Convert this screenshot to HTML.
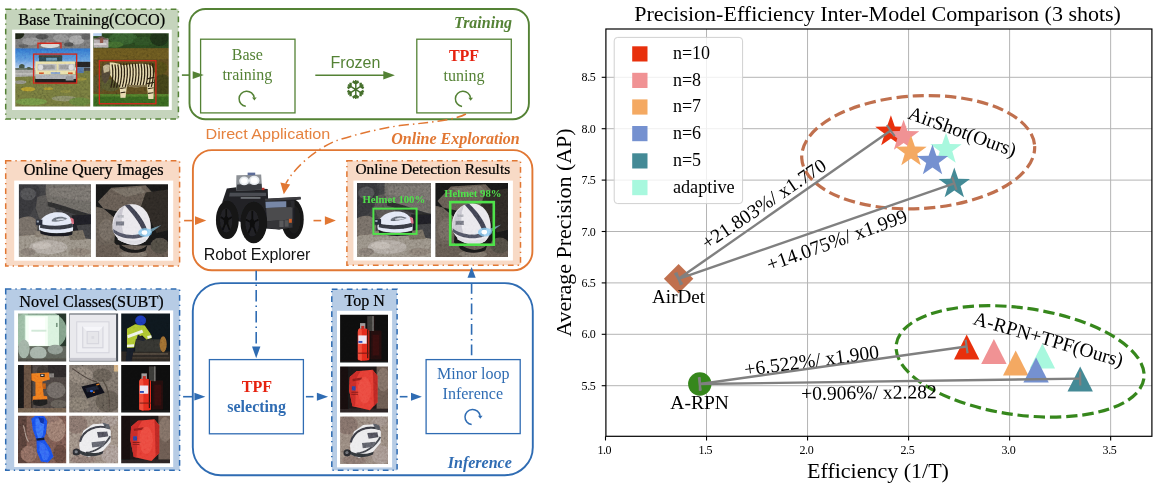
<!DOCTYPE html>
<html lang="en"><head><meta charset="utf-8"><title>AirShot overview</title>
<style>html,body{margin:0;padding:0;background:#fff}svg{display:block}</style></head><body>
<svg width="1157" height="485" viewBox="0 0 1157 485">
<rect x="0" y="0" width="1157" height="485" fill="#fff"/>
<rect x="5.7" y="9.2" width="172.70" height="109.90" fill="#c5d4bc" stroke="#548235" stroke-width="1.5" stroke-dasharray="5.7 4 1.3 4"/>
<rect x="12.1" y="29.7" width="159.70" height="80.30" fill="#fff" stroke="none" stroke-width="1" rx="0" />
<text x="91.7" y="24.8" font-size="16.25" fill="#000" text-anchor="middle" font-family="'Liberation Serif', serif" stroke="#000" stroke-width="0.22">Base Training(COCO)</text>
<rect x="5.7" y="160.7" width="173.90" height="105.20" fill="#f8dac6" stroke="#e17733" stroke-width="1.5" stroke-dasharray="5.7 4 1.3 4"/>
<rect x="14.2" y="180.6" width="159.00" height="80.10" fill="#fff" stroke="none" stroke-width="1" rx="0" />
<text x="93.7" y="174.6" font-size="16.25" fill="#000" text-anchor="middle" font-family="'Liberation Serif', serif" stroke="#000" stroke-width="0.22">Online Query Images</text>
<rect x="5.7" y="289.0" width="173.90" height="181.30" fill="#b7cce5" stroke="#2f6cb3" stroke-width="1.5" stroke-dasharray="5.7 4 1.3 4"/>
<rect x="14.2" y="310.4" width="159.00" height="156.60" fill="#fff" stroke="none" stroke-width="1" rx="0" />
<text x="91.5" y="307.0" font-size="16.2" fill="#000" text-anchor="middle" font-family="'Liberation Serif', serif" stroke="#000" stroke-width="0.22">Novel Classes(SUBT)</text>
<rect x="189.5" y="9.0" width="339.40" height="110.20" fill="none" stroke="#548235" stroke-width="1.9" rx="16" />
<rect x="200.6" y="39.2" width="94.40" height="73.70" fill="none" stroke="#548235" stroke-width="1.3" rx="0" />
<rect x="416.8" y="39.2" width="94.50" height="73.70" fill="none" stroke="#548235" stroke-width="1.3" rx="0" />
<text x="247.3" y="59.8" font-size="16" fill="#548235" text-anchor="middle" font-family="'Liberation Serif', serif" >Base</text>
<text x="247.3" y="79.9" font-size="16" fill="#548235" text-anchor="middle" font-family="'Liberation Serif', serif" >training</text>
<path d="M245.77,106.34 A7.6,7.6 0 1 1 254.23,97.74" fill="none" stroke="#548235" stroke-width="1.5"/>
<polygon points="254.38,100.54 256.68,97.54 252.08,97.54" fill="#548235"/>
<text x="464.0" y="60.9" font-size="16" fill="#e6220f" text-anchor="middle" font-family="'Liberation Serif', serif" font-weight="bold" >TPF</text>
<text x="464.0" y="80.5" font-size="16" fill="#548235" text-anchor="middle" font-family="'Liberation Serif', serif" >tuning</text>
<path d="M462.07,106.44 A7.6,7.6 0 1 1 470.53,97.84" fill="none" stroke="#548235" stroke-width="1.5"/>
<polygon points="470.68,100.64 472.98,97.64 468.38,97.64" fill="#548235"/>
<text x="483.0" y="27.8" font-size="16" fill="#548235" text-anchor="middle" font-family="'Liberation Serif', serif" font-weight="bold" font-style="italic" >Training</text>
<line x1="315.3" y1="75.3" x2="385.62" y2="75.3" stroke="#548235" stroke-width="1.6"/>
<polygon points="394.9,75.3 383.30,71.0 383.30,79.6" fill="#548235"/>
<text x="355.5" y="67.5" font-size="16" fill="#548235" text-anchor="middle" font-family="'Liberation Sans', sans-serif" >Frozen</text>
<text transform="translate(355.6 98.9) scale(1 1.06)" font-size="24.6" fill="#456f2b" text-anchor="middle" font-family="'DejaVu Sans', sans-serif">&#10054;</text>
<line x1="181.9" y1="75.1" x2="189.0" y2="75.1" stroke="#548235" stroke-width="1.6"/>
<polygon points="203.8,75.1 192.7,71.19999999999999 192.7,79.0" fill="#548235"/>
<rect x="192.9" y="150.1" width="339.50" height="120.20" fill="none" stroke="#e17733" stroke-width="1.9" rx="19" />
<text x="205.5" y="138.8" font-size="14.8" fill="#e5823f" text-anchor="start" font-family="'Liberation Sans', sans-serif" textLength="124.8" lengthAdjust="spacingAndGlyphs">Direct Application</text>
<text x="455.5" y="144.2" font-size="16" fill="#e17733" text-anchor="middle" font-family="'Liberation Serif', serif" font-weight="bold" font-style="italic" >Online Exploration</text>
<text x="257.0" y="260.2" font-size="16" fill="#111" text-anchor="middle" font-family="'Liberation Sans', sans-serif" >Robot Explorer</text>
<rect x="346.9" y="160.7" width="173.60" height="104.50" fill="#f8dac6" stroke="#e17733" stroke-width="1.5" stroke-dasharray="5.7 4 1.3 4"/>
<rect x="353.4" y="180.6" width="159.50" height="79.90" fill="#fff" stroke="none" stroke-width="1" rx="0" />
<text x="432.8" y="173.6" font-size="15.4" fill="#000" text-anchor="middle" font-family="'Liberation Serif', serif" stroke="#000" stroke-width="0.22">Online Detection Results</text>
<line x1="184.1" y1="220.6" x2="192.4" y2="220.6" stroke="#e17733" stroke-width="1.6"/>
<polygon points="206.3,220.6 195.0,216.2 195.0,225.0" fill="#e17733"/>
<line x1="313.5" y1="220.6" x2="321.2" y2="220.6" stroke="#e17733" stroke-width="1.6"/>
<polygon points="335.9,220.6 324.9,216.29999999999998 324.9,224.9" fill="#e17733"/>
<path d="M465.9,114 C455,120 430,122.5 399.9,125.5 C375,129.5 352,135.5 335,141.1 C318,148.5 296,165 285.8,183.6" fill="none" stroke="#e17733" stroke-width="1.5" stroke-dasharray="10 4 1.5 4"/>
<polygon points="283.8,194.2 280.4,182.4 290.2,184.6" fill="#e17733"/>
<rect x="192.8" y="283.1" width="340.00" height="192.10" fill="none" stroke="#2f6cb3" stroke-width="1.9" rx="28" />
<rect x="209.4" y="359.6" width="94.00" height="74.20" fill="none" stroke="#2f6cb3" stroke-width="1.3" rx="0" />
<rect x="426.1" y="359.6" width="94.10" height="74.00" fill="none" stroke="#2f6cb3" stroke-width="1.3" rx="0" />
<text x="256.9" y="391.8" font-size="16" fill="#e6220f" text-anchor="middle" font-family="'Liberation Serif', serif" font-weight="bold" >TPF</text>
<text x="256.6" y="412.3" font-size="16" fill="#2f6cb3" text-anchor="middle" font-family="'Liberation Serif', serif" font-weight="bold" >selecting</text>
<text x="473.2" y="379.0" font-size="16" fill="#2f6cb3" text-anchor="middle" font-family="'Liberation Serif', serif" >Minor loop</text>
<text x="472.8" y="399.0" font-size="16" fill="#2f6cb3" text-anchor="middle" font-family="'Liberation Serif', serif" >Inference</text>
<path d="M471.67,424.54 A7.6,7.6 0 1 1 480.13,415.94" fill="none" stroke="#2f6cb3" stroke-width="1.5"/>
<polygon points="480.28,418.74 482.58,415.74 477.98,415.74" fill="#2f6cb3"/>
<text x="479.8" y="467.9" font-size="16" fill="#2f6cb3" text-anchor="middle" font-family="'Liberation Serif', serif" font-weight="bold" font-style="italic" >Inference</text>
<rect x="331.8" y="289.2" width="65.30" height="181.10" fill="#b7cce5" stroke="#2f6cb3" stroke-width="1.5" stroke-dasharray="5.7 4 1.3 4"/>
<rect x="337.0" y="310.8" width="55.10" height="156.60" fill="#fff" stroke="none" stroke-width="1" rx="0" />
<text x="364.6" y="306.3" font-size="16" fill="#000" text-anchor="middle" font-family="'Liberation Serif', serif" stroke="#000" stroke-width="0.22">Top N</text>
<line x1="183.1" y1="396.7" x2="192.0" y2="396.7" stroke="#2f6cb3" stroke-width="1.6"/>
<polygon points="205.4,396.7 194.4,392.8 194.4,400.59999999999997" fill="#2f6cb3"/>
<line x1="305.9" y1="396.7" x2="313.5" y2="396.7" stroke="#2f6cb3" stroke-width="1.6"/>
<polygon points="328.1,396.7 316.9,392.7 316.9,400.7" fill="#2f6cb3"/>
<line x1="399.7" y1="396.7" x2="407.5" y2="396.7" stroke="#2f6cb3" stroke-width="1.6"/>
<polygon points="421.9,396.7 411.0,392.7 411.0,400.7" fill="#2f6cb3"/>
<line x1="256.2" y1="270.7" x2="256.2" y2="344" stroke="#2f6cb3" stroke-width="1.6" stroke-dasharray="11.5 4 1.5 4" stroke-dashoffset="1.7"/>
<polygon points="256.2,358.2 252.0,346.6 260.4,346.6" fill="#2f6cb3"/>
<line x1="471.6" y1="359.4" x2="471.6" y2="283.6" stroke="#2f6cb3" stroke-width="1.6" stroke-dasharray="10.8 4.1 1.5 4.1" stroke-dashoffset="16.4"/>
<polygon points="471.6,266.9 467.5,277.8 475.7,277.8" fill="#2f6cb3"/>
<defs><filter id="pb" x="-5%" y="-5%" width="110%" height="110%"><feGaussianBlur stdDeviation="4.2"/></filter><filter id="pb2" x="-5%" y="-5%" width="110%" height="110%"><feGaussianBlur stdDeviation="5.6"/></filter><filter id="gn" x="0" y="0" width="100%" height="100%"><feTurbulence type="fractalNoise" baseFrequency="0.45" numOctaves="3" seed="7" result="t"/><feColorMatrix in="t" type="matrix" values="0.55 0.55 0.55 0 -0.33  0.55 0.55 0.55 0 -0.33  0.55 0.55 0.55 0 -0.33  0 0 0 0 1"/></filter><clipPath id="pc1"><rect x="15.25" y="33.2" width="74.95" height="73.30"/></clipPath><clipPath id="pc2"><rect x="93.25" y="33.2" width="75.45" height="73.30"/></clipPath><clipPath id="pc3"><rect x="18.9" y="184.3" width="72.10" height="72.70"/></clipPath><clipPath id="pc4"><rect x="95.9" y="184.3" width="72.10" height="72.70"/></clipPath><clipPath id="pc5"><rect x="18.0" y="313.6" width="48.20" height="47.80"/></clipPath><clipPath id="pc6"><rect x="69.2" y="313.6" width="48.90" height="47.80"/></clipPath><clipPath id="pc7"><rect x="121.2" y="313.6" width="48.80" height="47.80"/></clipPath><clipPath id="pc8"><rect x="18.0" y="365.0" width="48.20" height="47.40"/></clipPath><clipPath id="pc9"><rect x="69.2" y="365.0" width="48.90" height="47.40"/></clipPath><clipPath id="pc10"><rect x="121.2" y="365.0" width="48.80" height="47.40"/></clipPath><clipPath id="pc11"><rect x="18.0" y="415.7" width="48.20" height="47.60"/></clipPath><clipPath id="pc12"><rect x="69.2" y="415.7" width="48.90" height="47.60"/></clipPath><clipPath id="pc13"><rect x="121.2" y="415.7" width="48.80" height="47.60"/></clipPath><clipPath id="pc14"><rect x="340.1" y="314.7" width="47.90" height="47.90"/></clipPath><clipPath id="pc15"><rect x="340.1" y="366.4" width="47.90" height="46.00"/></clipPath><clipPath id="pc16"><rect x="340.1" y="416.5" width="47.90" height="47.60"/></clipPath><clipPath id="pc17"><rect x="357.0" y="183.1" width="74.00" height="73.90"/></clipPath><clipPath id="pc18"><rect x="435.4" y="183.1" width="72.60" height="73.90"/></clipPath></defs><g clip-path="url(#pc1)"><g transform="translate(14 32) scale(0.15662)"><g filter="url(#pb)"><rect x="0" y="0" width="500" height="110" fill="#6f6f6f" /><ellipse cx="20" cy="15" rx="45" ry="30" fill="#1c2414" /><ellipse cx="110" cy="60" rx="60" ry="25" fill="#8a8a8a" /><ellipse cx="230" cy="85" rx="60" ry="18" fill="#d4d4d0" /><ellipse cx="300" cy="40" rx="50" ry="25" fill="#858585" /><ellipse cx="400" cy="50" rx="50" ry="30" fill="#9c9c9c" /><ellipse cx="180" cy="30" rx="40" ry="18" fill="#4c4c4c" /><ellipse cx="350" cy="80" rx="30" ry="14" fill="#4a4a4a" /><ellipse cx="460" cy="30" rx="30" ry="20" fill="#595959" /><ellipse cx="60" cy="90" rx="30" ry="12" fill="#555" /><linearGradient id="sky1" x1="0" y1="0" x2="0" y2="1"><stop offset="0" stop-color="#2a69c6"/><stop offset="0.55" stop-color="#5b93d8"/><stop offset="1" stop-color="#b4d0ec"/></linearGradient><rect x="0" y="105" width="500" height="135" fill="url(#sky1)" /><ellipse cx="50" cy="222" rx="18" ry="18" fill="#3c4c3c" /><rect x="0" y="230" width="130" height="14" fill="#5a6458" /><ellipse cx="95" cy="232" rx="14" ry="8" fill="#46523f" /><rect x="65" y="246" width="30" height="10" fill="#b03828" /><rect x="0" y="242" width="500" height="45" fill="#9b9b97" /><rect x="0" y="262" width="130" height="10" fill="#b4b4b0" /><polygon points="0,288 140,282 400,250 500,246 500,480 0,480" fill="#6a6e38" /><ellipse cx="90" cy="365" rx="45" ry="14" fill="#a8902c" /><ellipse cx="220" cy="362" rx="30" ry="8" fill="#9a8a2e" /><ellipse cx="430" cy="300" rx="36" ry="10" fill="#8c8334" /><ellipse cx="330" cy="380" rx="36" ry="10" fill="#7d7c3a" /><ellipse cx="40" cy="320" rx="40" ry="12" fill="#85857a" /><ellipse cx="320" cy="425" rx="80" ry="18" fill="#7f8262" /><ellipse cx="110" cy="445" rx="100" ry="22" fill="#6a8a40" /><ellipse cx="420" cy="445" rx="70" ry="26" fill="#5f7838" /><rect x="385" y="190" width="115" height="36" fill="#232323" /><rect x="400" y="226" width="45" height="36" fill="#4c6c9c" /><rect x="445" y="228" width="55" height="20" fill="#3a3a3a" /><rect x="135" y="296" width="262" height="32" fill="#1b1b1b" /><rect x="158" y="148" width="150" height="16" fill="#3c3c30" /><rect x="160" y="160" width="148" height="32" fill="#27424c" /><rect x="205" y="165" width="70" height="18" fill="#5e8aa6" /><rect x="137" y="188" width="255" height="84" fill="#e8dea2" /><rect x="150" y="204" width="238" height="42" fill="#b6b6b6" /><rect x="272" y="204" width="12" height="42" fill="#e0d69c" /><rect x="160" y="212" width="100" height="26" fill="#8e8e8e" /><rect x="290" y="212" width="60" height="26" fill="#929292" /><ellipse cx="170" cy="225" rx="16" ry="18" fill="#d8d8d8" /><ellipse cx="365" cy="225" rx="16" ry="18" fill="#d8d8d8" /><rect x="160" y="258" width="30" height="10" fill="#cf4a22" /><rect x="345" y="258" width="30" height="10" fill="#cf4a22" /><rect x="235" y="256" width="60" height="14" fill="#7a96c4" /><rect x="137" y="272" width="258" height="28" fill="#a4a6aa" /><rect x="330" y="280" width="50" height="30" fill="#8a8c90" /></g></g><rect x="15.25" y="33.2" width="74.95" height="73.30" filter="url(#gn)" opacity="0.28" style="mix-blend-mode:overlay"/><g transform="translate(14 32) scale(0.15662)"><rect x="125" y="141" width="275" height="185" fill="none" stroke="#d3291c" stroke-width="8.5"/><path d="M153,105 V72 H300 V105" fill="none" stroke="#d3291c" stroke-width="8.5"/></g></g>
<g clip-path="url(#pc2)"><g transform="translate(92 32) scale(0.15662)"><g filter="url(#pb)"><rect x="0" y="0" width="500" height="110" fill="#25411d" /><ellipse cx="200" cy="40" rx="90" ry="40" fill="#30562a" /><ellipse cx="330" cy="60" rx="70" ry="30" fill="#294a20" /><ellipse cx="430" cy="40" rx="60" ry="50" fill="#1a2e14" /><ellipse cx="140" cy="80" rx="60" ry="20" fill="#3a6029" /><rect x="0" y="0" width="62" height="26" fill="#a9c6ea" /><rect x="10" y="42" width="95" height="58" fill="#a9a2a4" /><polygon points="10,48 60,25 108,50" fill="#5c4a44" /><rect x="50" y="40" width="22" height="30" fill="#7d4c40" /><rect x="12" y="72" width="80" height="10" fill="#d8d4d4" /><rect x="0" y="104" width="500" height="300" fill="#54451a" /><rect x="0" y="104" width="500" height="70" fill="#5f4f1c" /><ellipse cx="450" cy="340" rx="60" ry="70" fill="#3b3a17" /><ellipse cx="430" cy="230" rx="50" ry="40" fill="#4b4418" /><ellipse cx="40" cy="330" rx="40" ry="60" fill="#4d4a28" /><ellipse cx="120" cy="340" rx="60" ry="40" fill="#50502c" /><rect x="0" y="398" width="500" height="90" fill="#335b1e" /><rect x="0" y="396" width="500" height="16" fill="#4a6f28" /><path d="M112,196 C140,192 170,205 200,212 C250,205 320,195 372,210 C398,225 402,270 396,310 L392,428 L360,428 L352,350 C320,352 260,356 222,346 L214,420 L182,420 L176,340 C150,320 120,290 112,262 Z" fill="#e4d6a6" /><path d="M112,196 C86,196 64,212 60,250 C58,290 66,320 84,330 C100,320 112,290 118,262 Z" fill="#4a4030" /><path d="M70,220 C84,206 104,204 114,214 L110,250 L76,262 Z" fill="#b4a680" /><path d="M128.0,206 C138.0,256 134.0,306 120.0,356" stroke="#251c10" stroke-width="8.5" fill="none"/><path d="M146.5,206 C156.5,256 152.5,306 138.5,356" stroke="#251c10" stroke-width="8.5" fill="none"/><path d="M165.0,206 C175.0,256 171.0,306 157.0,356" stroke="#251c10" stroke-width="8.5" fill="none"/><path d="M183.5,200 C193.5,250 189.5,300 175.5,350" stroke="#251c10" stroke-width="8.5" fill="none"/><path d="M202.0,200 C212.0,250 208.0,300 194.0,350" stroke="#251c10" stroke-width="8.5" fill="none"/><path d="M220.5,200 C230.5,250 226.5,300 212.5,350" stroke="#251c10" stroke-width="8.5" fill="none"/><path d="M239.0,200 C249.0,250 245.0,300 231.0,350" stroke="#251c10" stroke-width="8.5" fill="none"/><path d="M257.5,200 C267.5,250 263.5,300 249.5,350" stroke="#251c10" stroke-width="8.5" fill="none"/><path d="M276.0,200 C286.0,250 282.0,300 268.0,350" stroke="#251c10" stroke-width="8.5" fill="none"/><path d="M294.5,200 C304.5,250 300.5,300 286.5,350" stroke="#251c10" stroke-width="8.5" fill="none"/><path d="M313.0,200 C323.0,250 319.0,300 305.0,350" stroke="#251c10" stroke-width="8.5" fill="none"/><path d="M331.5,200 C341.5,250 337.5,300 323.5,350" stroke="#251c10" stroke-width="8.5" fill="none"/><path d="M350.0,200 C360.0,250 356.0,300 342.0,350" stroke="#251c10" stroke-width="8.5" fill="none"/><path d="M368.5,200 C378.5,250 374.5,300 360.5,350" stroke="#251c10" stroke-width="8.5" fill="none"/><path d="M387.0,200 C397.0,250 393.0,300 379.0,350" stroke="#251c10" stroke-width="8.5" fill="none"/><line x1="352" y1="300" x2="398" y2="290" stroke="#251c10" stroke-width="8" /><line x1="352" y1="330" x2="396" y2="322" stroke="#251c10" stroke-width="8" /><line x1="356" y1="362" x2="394" y2="356" stroke="#251c10" stroke-width="7" /><line x1="358" y1="392" x2="392" y2="388" stroke="#251c10" stroke-width="7" /><line x1="180" y1="360" x2="216" y2="356" stroke="#251c10" stroke-width="7" /><line x1="182" y1="388" x2="214" y2="384" stroke="#251c10" stroke-width="7" /><path d="M222,346 C260,356 320,352 352,350 L352,338 C320,340 260,342 224,334 Z" fill="#6e6140" /></g></g><rect x="93.25" y="33.2" width="75.45" height="73.30" filter="url(#gn)" opacity="0.32" style="mix-blend-mode:overlay"/><g transform="translate(92 32) scale(0.15662)"><rect x="47" y="183" width="361" height="275" fill="none" stroke="#d3291c" stroke-width="8.5"/></g></g>
<g clip-path="url(#pc3)"><g transform="translate(17 183) scale(0.15669)"><g filter="url(#pb)"><rect x="0" y="0" width="490" height="490" fill="#3b3b3d" /><polygon points="12,8 130,8 150,60 120,150 60,230 12,230" fill="#333336" /><ellipse cx="70" cy="70" rx="50" ry="40" fill="#4a4a4c" /><polygon points="130,90 200,70 250,180 240,260 150,250 120,160" fill="#504e4c" /><path d="M185,8 L480,8 L480,200 C400,190 300,150 200,125 C180,90 182,40 185,8 Z" fill="#625e5a" /><path d="M200,30 L470,20 L470,120 C380,110 280,90 210,80 Z" fill="#6c6864" /><path d="M195,120 C300,140 400,185 480,205 L480,225 C400,215 300,175 200,150 Z" fill="#2a2a2c" /><rect x="350" y="205" width="130" height="130" fill="#1d1d20" /><polygon points="380,270 480,262 480,340 400,332" fill="#3b3b3c" /><path d="M12,230 C50,205 110,205 132,250 L128,330 L12,350 Z" fill="#6b635b" /><path d="M12,340 C120,320 330,330 480,360 L480,480 L12,480 Z" fill="#8b8379" /><ellipse cx="200" cy="410" rx="120" ry="44" fill="#a69e96" /><ellipse cx="160" cy="400" rx="60" ry="22" fill="#b9b1a9" /><ellipse cx="400" cy="440" rx="70" ry="25" fill="#7b736b" /><ellipse cx="70" cy="440" rx="50" ry="25" fill="#79716a" /><polygon points="320,310 420,300 440,360 340,364" fill="#6b6359" /><polygon points="120,310 180,300 190,340 110,346" fill="#7a7268" /><path d="M142,300 C128,230 190,186 262,186 C330,186 360,232 358,290 L356,306 C290,326 200,326 142,300 Z" fill="#dfe6f5" /><path d="M150,262 C200,276 290,278 356,256 L357,282 C290,304 200,300 146,286 Z" fill="#30343d" /><path d="M222,236 C240,214 290,208 322,228 C300,240 250,250 222,246 Z" fill="#5f6670" /><path d="M250,232 C270,224 296,224 310,232 C292,238 268,240 250,238 Z" fill="#c9d0dc" /><rect x="120" y="234" width="42" height="36" fill="#242830" /><rect x="126" y="240" width="14" height="12" fill="#8a94a4" /><path d="M146,302 C200,328 290,328 356,308 L352,330 C290,346 200,344 150,322 Z" fill="#15181c" /><path d="M340,220 L360,228 L364,262 L350,262 Z" fill="#d86a7a" /></g></g><rect x="18.9" y="184.3" width="72.10" height="72.70" filter="url(#gn)" opacity="0.32" style="mix-blend-mode:overlay"/><g transform="translate(17 183) scale(0.15669)"></g></g>
<g clip-path="url(#pc4)"><g transform="translate(94 183) scale(0.15669)"><g filter="url(#pb)"><rect x="0" y="0" width="490" height="490" fill="#151515" /><polygon points="25,120 110,30 330,15 372,60 300,150 150,182 60,162" fill="#5b534b" /><polygon points="110,40 300,25 330,60 200,90" fill="#6b635a" /><polygon points="330,60 480,40 480,300 400,320 340,200 300,150" fill="#2a2622" /><path d="M12,150 L60,162 L140,230 L130,380 L200,470 L12,480 Z" fill="#5d554d" /><path d="M12,400 C150,380 330,420 480,380 L480,480 L12,480 Z" fill="#5a5149" /><ellipse cx="420" cy="400" rx="60" ry="50" fill="#4a443e" /><ellipse cx="80" cy="300" rx="50" ry="70" fill="#686058" /><ellipse cx="250" cy="455" rx="90" ry="22" fill="#6f675f" /><path d="M160,385 C220,440 300,440 340,395 L330,430 C280,455 200,450 165,415 Z" fill="#141414" /><path d="M120,300 C105,200 170,132 250,136 C325,140 368,215 362,300 C358,350 330,384 280,394 C215,402 140,370 120,300 Z" fill="#e7e5ea" /><path d="M122,292 C118,230 150,170 196,142 C170,200 168,280 200,352 C160,340 130,320 122,292 Z" fill="#c4c2cc" /><path d="M196,142 C240,190 290,250 312,310 L338,296 C316,232 270,178 226,138 Z" fill="#3b3d4b" /><path d="M122,292 C170,330 250,344 318,318 L322,342 C250,370 160,350 124,316 Z" fill="#4c4e5c" /><rect x="140" y="245" width="52" height="26" fill="#6c6e78" /><rect x="150" y="205" width="40" height="16" fill="#a9abb3" /><path d="M150,340 C200,372 280,380 330,350 L330,372 C280,398 200,392 152,362 Z" fill="#d9d7dd" /><ellipse cx="326" cy="316" rx="44" ry="28" fill="#79bfee" opacity="0.8"/><polygon points="330,304 430,268 348,328" fill="#8fd0f4" opacity="0.55"/><polygon points="300,318 250,330 300,326" fill="#8fd0f4" opacity="0.4"/><ellipse cx="322" cy="316" rx="18" ry="15" fill="#ffffff" /></g></g><rect x="95.9" y="184.3" width="72.10" height="72.70" filter="url(#gn)" opacity="0.32" style="mix-blend-mode:overlay"/><g transform="translate(94 183) scale(0.15669)"></g></g>
<g clip-path="url(#pc5)"><g transform="translate(15 312) scale(0.13656)"><g filter="url(#pb2)"><rect x="15" y="5" width="370" height="365" fill="#33423a" /><rect x="15" y="5" width="80" height="260" fill="#8aa690" /><rect x="320" y="5" width="65" height="250" fill="#26342a" /><ellipse cx="180" cy="140" rx="200" ry="160" fill="#9cc0a6" opacity="0.75"/><rect x="72" y="24" width="250" height="228" fill="#d9f2de" /><rect x="80" y="30" width="160" height="220" fill="#f6fff6" /><rect x="100" y="40" width="120" height="200" fill="#ffffff" /><rect x="120" y="130" width="110" height="14" fill="#cfe8d6" /><rect x="300" y="80" width="12" height="30" fill="#6f8f78" /><rect x="15" y="250" width="370" height="120" fill="#5b6158" /><ellipse cx="65" cy="270" rx="42" ry="68" fill="#9fb0a3" /><ellipse cx="170" cy="300" rx="62" ry="48" fill="#a3b0a6" /><ellipse cx="295" cy="275" rx="56" ry="36" fill="#8c988f" /><rect x="15" y="340" width="370" height="30" fill="#4c4c44" /></g></g><rect x="18.0" y="313.6" width="48.20" height="47.80" filter="url(#gn)" opacity="0.15" style="mix-blend-mode:overlay"/><g transform="translate(15 312) scale(0.13656)"></g></g>
<g clip-path="url(#pc6)"><g transform="translate(15 312) scale(0.13656)"><g filter="url(#pb2)"><rect x="390" y="5" width="372" height="365" fill="#4a5058" /><rect x="400" y="18" width="340" height="338" fill="#e9e9ed" /><rect x="400" y="336" width="340" height="20" fill="#c7c7cf" /><rect x="448" y="68" width="244" height="234" fill="#d6d6de" /><rect x="456" y="76" width="228" height="218" fill="#efeff3" /><rect x="492" y="104" width="156" height="162" fill="#d4d4dc" /><rect x="500" y="112" width="140" height="146" fill="#ebebef" /><rect x="524" y="138" width="92" height="98" fill="#d6d6de" /><rect x="532" y="146" width="76" height="82" fill="#e6e6ea" /><polygon points="492,104 648,104 616,138 524,138" fill="#f6f6fa" /><rect x="560" y="176" width="20" height="20" fill="#dadae0" /></g></g><g transform="translate(15 312) scale(0.13656)"></g></g>
<g clip-path="url(#pc7)"><g transform="translate(15 312) scale(0.13656)"><g filter="url(#pb2)"><rect x="770" y="5" width="372" height="365" fill="#10141a" /><rect x="770" y="290" width="372" height="80" fill="#2c2823" /><rect x="880" y="200" width="190" height="92" fill="#33332f" /><rect x="860" y="300" width="260" height="14" fill="#4a4238" /><rect x="860" y="330" width="270" height="10" fill="#40382e" /><ellipse cx="1085" cy="236" rx="26" ry="58" fill="#97682f" /><polygon points="820,122 880,90 950,98 992,160 1002,190 962,202 930,170 884,202 872,262 820,266" fill="#a9c22f" /><polygon points="822,170 930,130 940,150 826,192" fill="#eef2e6" /><polygon points="820,240 872,236 872,254 820,258" fill="#eef2e6" /><polygon points="968,176 998,170 1000,188 972,196" fill="#eef2e6" /><ellipse cx="920" cy="62" rx="40" ry="36" fill="#1a38b2" /><polygon points="820,262 872,262 852,365 810,365" fill="#161a26" /><polygon points="900,165 960,200 940,215 890,200" fill="#20242c" /></g></g><rect x="121.2" y="313.6" width="48.80" height="47.80" filter="url(#gn)" opacity="0.2" style="mix-blend-mode:overlay"/><g transform="translate(15 312) scale(0.13656)"></g></g>
<g clip-path="url(#pc8)"><g transform="translate(15 363) scale(0.13656)"><g filter="url(#pb2)"><rect x="10" y="8" width="372" height="362" fill="#46413c" /><rect x="10" y="8" width="58" height="362" fill="#191919" /><rect x="65" y="8" width="58" height="330" fill="#5b4a3a" /><rect x="118" y="8" width="10" height="330" fill="#2b241e" /><rect x="240" y="8" width="142" height="95" fill="#2a2826" /><ellipse cx="300" cy="200" rx="70" ry="60" fill="#66615b" /><ellipse cx="320" cy="300" rx="60" ry="30" fill="#5a554f" /><ellipse cx="200" cy="60" rx="40" ry="40" fill="#37322e" /><rect x="10" y="330" width="372" height="40" fill="#6a5a4a" /><polygon points="120,76 250,70 255,120 200,136 210,242 150,246 150,140 120,126" fill="#e9711c" /><rect x="250" y="76" width="36" height="30" fill="#77736f" /><rect x="185" y="80" width="32" height="22" fill="#1c1c1c" /><rect x="192" y="85" width="16" height="10" fill="#e4e4e4" /><path d="M130,246 C150,236 220,236 236,246 L236,272 L130,276 Z" fill="#e9711c" /><path d="M132,270 L236,266 L236,300 C200,318 160,318 134,304 Z" fill="#1b1b1b" /><rect x="205" y="150" width="20" height="40" fill="#b75514" /></g></g><rect x="18.0" y="365.0" width="48.20" height="47.40" filter="url(#gn)" opacity="0.3" style="mix-blend-mode:overlay"/><g transform="translate(15 363) scale(0.13656)"></g></g>
<g clip-path="url(#pc9)"><g transform="translate(15 363) scale(0.13656)"><g filter="url(#pb2)"><rect x="390" y="8" width="372" height="362" fill="#6d655d" /><ellipse cx="480" cy="90" rx="90" ry="60" fill="#7b736b" /><ellipse cx="680" cy="280" rx="90" ry="80" fill="#595149" /><ellipse cx="640" cy="90" rx="70" ry="50" fill="#5a534c" /><ellipse cx="470" cy="300" rx="80" ry="50" fill="#756d64" /><path d="M420,40 C480,80 520,120 600,140" fill="none" stroke="#443c36" stroke-width="8"/><path d="M640,120 C680,180 700,240 690,330" fill="none" stroke="#4a423b" stroke-width="8"/><rect x="724" y="8" width="38" height="54" fill="#c9a172" /><polygon points="486,172 614,142 656,218 528,260" fill="#0f1116" /><polygon points="516,184 602,164 616,192 528,214" fill="#1c2030" /><ellipse cx="560" cy="206" rx="12" ry="8" fill="#2a5ad6" /><ellipse cx="578" cy="214" rx="7" ry="5" fill="#e0701e" /><rect x="596" y="152" width="22" height="10" fill="#c8641e" transform="rotate(-12 607 157)"/></g></g><rect x="69.2" y="365.0" width="48.90" height="47.40" filter="url(#gn)" opacity="0.4" style="mix-blend-mode:overlay"/><g transform="translate(15 363) scale(0.13656)"></g></g>
<g clip-path="url(#pc10)"><g transform="translate(15 363) scale(0.13656)"><g filter="url(#pb2)"><rect x="770" y="8" width="372" height="362" fill="#0d0909" /><rect x="1005" y="130" width="80" height="210" fill="#240d0b" /><rect x="1020" y="160" width="50" height="150" fill="#34110e" /><rect x="980" y="25" width="52" height="108" fill="#393735" /><rect x="1018" y="25" width="10" height="108" fill="#6a6866" /><rect x="770" y="345" width="372" height="25" fill="#191514" /><path d="M910,140 C910,105 996,105 996,140 L996,338 C996,352 910,352 910,338 Z" fill="#e3291b" /><path d="M910,140 C910,105 940,105 940,140 L940,350 L910,338 Z" fill="#f04a38" /><rect x="926" y="76" width="40" height="40" fill="#9a9494" /><rect x="936" y="96" width="22" height="22" fill="#c02a20" /><rect x="914" y="165" width="62" height="60" fill="#ece6f2" /><rect x="914" y="205" width="30" height="14" fill="#2c4ab2" /><rect x="980" y="120" width="8" height="210" fill="#22100e" /><rect x="912" y="290" width="84" height="7" fill="#6a1a14" /></g></g><rect x="121.2" y="365.0" width="48.80" height="47.40" filter="url(#gn)" opacity="0.15" style="mix-blend-mode:overlay"/><g transform="translate(15 363) scale(0.13656)"></g></g>
<g clip-path="url(#pc11)"><g transform="translate(15 413) scale(0.13656)"><g filter="url(#pb2)"><rect x="15" y="12" width="368" height="362" fill="#6c5046" /><rect x="15" y="12" width="70" height="362" fill="#4e3830" /><ellipse cx="300" cy="120" rx="70" ry="90" fill="#8a6e64" /><ellipse cx="330" cy="300" rx="50" ry="70" fill="#5a4038" /><ellipse cx="100" cy="300" rx="60" ry="60" fill="#7b5f55" /><ellipse cx="260" cy="40" rx="60" ry="30" fill="#7a625a" /><path d="M60,90 C80,130 70,180 100,210" fill="none" stroke="#9c8880" stroke-width="8"/><polygon points="120,42 150,20 215,24 236,60 226,150 210,186 260,260 282,320 240,362 190,356 160,282 158,200 130,120" fill="#1746e6" /><polygon points="150,40 200,36 214,80 205,160 190,186 170,186 150,120" fill="#3366f6" /><polygon points="180,210 220,230 256,300 236,346 206,346 178,276" fill="#2d5cf0" /><polygon points="170,30 212,40 210,80 186,70" fill="#0e2a90" /><polygon points="156,186 214,180 216,198 158,204" fill="#0b1430" /></g></g><rect x="18.0" y="415.7" width="48.20" height="47.60" filter="url(#gn)" opacity="0.4" style="mix-blend-mode:overlay"/><g transform="translate(15 413) scale(0.13656)"></g></g>
<g clip-path="url(#pc12)"><g transform="translate(15 413) scale(0.13656)"><g filter="url(#pb2)"><rect x="390" y="12" width="368" height="362" fill="#8b7b73" /><ellipse cx="450" cy="80" rx="80" ry="70" fill="#76665f" /><ellipse cx="700" cy="300" rx="70" ry="70" fill="#9b8b84" /><ellipse cx="690" cy="60" rx="60" ry="40" fill="#93837b" /><ellipse cx="500" cy="340" rx="90" ry="30" fill="#7d6d66" /><polygon points="470,232 500,130 570,82 650,76 702,130 700,212 640,282 540,322 480,300" fill="#e9e9eb" /><path d="M476,210 C500,120 600,80 690,112" fill="none" stroke="#34363c" stroke-width="16"/><path d="M520,290 C580,290 660,240 698,170" fill="none" stroke="#3e4046" stroke-width="14"/><polygon points="600,140 676,136 684,172 610,182" fill="#484a52" /><polygon points="560,214 660,204 650,244 566,252" fill="#585a62" /><path d="M470,270 C520,300 600,300 650,276 L640,300 C580,326 510,322 474,296 Z" fill="#2e3036" /><ellipse cx="450" cy="286" rx="28" ry="26" fill="#26282c" /><ellipse cx="448" cy="284" rx="12" ry="11" fill="#686a70" /><polygon points="640,70 690,84 700,120 660,110" fill="#50525a" /></g></g><rect x="69.2" y="415.7" width="48.90" height="47.60" filter="url(#gn)" opacity="0.4" style="mix-blend-mode:overlay"/><g transform="translate(15 413) scale(0.13656)"></g></g>
<g clip-path="url(#pc13)"><g transform="translate(15 413) scale(0.13656)"><g filter="url(#pb2)"><rect x="770" y="12" width="372" height="362" fill="#1c1818" /><rect x="1050" y="12" width="92" height="362" fill="#66564d" /><ellipse cx="1100" cy="120" rx="50" ry="90" fill="#7a6a60" /><rect x="770" y="340" width="372" height="34" fill="#2a2320" /><rect x="770" y="12" width="70" height="330" fill="#121010" /><polygon points="850,100 900,56 1020,45 1056,90 1056,292 1000,352 870,322 845,200" fill="#e33a31" /><polygon points="850,100 900,56 930,56 900,110 890,320 870,322 845,200" fill="#c62c26" /><polygon points="1020,45 1056,90 1056,292 1030,320 1024,100" fill="#b92822" /><polygon points="870,116 940,104 944,120 872,132" fill="#8f1e1a" /><rect x="865" y="170" width="28" height="32" fill="#2b3f9a" /><rect x="862" y="212" width="60" height="7" fill="#7a1a18" /><rect x="862" y="228" width="50" height="6" fill="#7a1a18" /><ellipse cx="960" cy="200" rx="50" ry="100" fill="#ec4d42" opacity="0.7"/></g></g><rect x="121.2" y="415.7" width="48.80" height="47.60" filter="url(#gn)" opacity="0.2" style="mix-blend-mode:overlay"/><g transform="translate(15 413) scale(0.13656)"></g></g>
<g clip-path="url(#pc14)"><g transform="translate(221.135 -54.150) scale(0.9816 1.0105) translate(15 363) scale(0.13656)"><g filter="url(#pb2)"><rect x="770" y="8" width="372" height="362" fill="#0d0909" /><rect x="1005" y="130" width="80" height="210" fill="#240d0b" /><rect x="1020" y="160" width="50" height="150" fill="#34110e" /><rect x="980" y="25" width="52" height="108" fill="#393735" /><rect x="1018" y="25" width="10" height="108" fill="#6a6866" /><rect x="770" y="345" width="372" height="25" fill="#191514" /><path d="M910,140 C910,105 996,105 996,140 L996,338 C996,352 910,352 910,338 Z" fill="#e3291b" /><path d="M910,140 C910,105 940,105 940,140 L940,350 L910,338 Z" fill="#f04a38" /><rect x="926" y="76" width="40" height="40" fill="#9a9494" /><rect x="936" y="96" width="22" height="22" fill="#c02a20" /><rect x="914" y="165" width="62" height="60" fill="#ece6f2" /><rect x="914" y="205" width="30" height="14" fill="#2c4ab2" /><rect x="980" y="120" width="8" height="210" fill="#22100e" /><rect x="912" y="290" width="84" height="7" fill="#6a1a14" /></g></g><rect x="340.1" y="314.7" width="47.90" height="47.90" filter="url(#gn)" opacity="0.15" style="mix-blend-mode:overlay"/><g transform="translate(221.135 -54.150) scale(0.9816 1.0105) translate(15 363) scale(0.13656)"></g></g>
<g clip-path="url(#pc15)"><g transform="translate(221.135 -35.327) scale(0.9816 0.9664) translate(15 413) scale(0.13656)"><g filter="url(#pb2)"><rect x="770" y="12" width="372" height="362" fill="#1c1818" /><rect x="1050" y="12" width="92" height="362" fill="#66564d" /><ellipse cx="1100" cy="120" rx="50" ry="90" fill="#7a6a60" /><rect x="770" y="340" width="372" height="34" fill="#2a2320" /><rect x="770" y="12" width="70" height="330" fill="#121010" /><polygon points="850,100 900,56 1020,45 1056,90 1056,292 1000,352 870,322 845,200" fill="#e33a31" /><polygon points="850,100 900,56 930,56 900,110 890,320 870,322 845,200" fill="#c62c26" /><polygon points="1020,45 1056,90 1056,292 1030,320 1024,100" fill="#b92822" /><polygon points="870,116 940,104 944,120 872,132" fill="#8f1e1a" /><rect x="865" y="170" width="28" height="32" fill="#2b3f9a" /><rect x="862" y="212" width="60" height="7" fill="#7a1a18" /><rect x="862" y="228" width="50" height="6" fill="#7a1a18" /><ellipse cx="960" cy="200" rx="50" ry="100" fill="#ec4d42" opacity="0.7"/></g></g><rect x="340.1" y="366.4" width="47.90" height="46.00" filter="url(#gn)" opacity="0.2" style="mix-blend-mode:overlay"/><g transform="translate(221.135 -35.327) scale(0.9816 0.9664) translate(15 413) scale(0.13656)"></g></g>
<g clip-path="url(#pc16)"><g transform="translate(272.315 0.800) scale(0.9796 1.0000) translate(15 413) scale(0.13656)"><g filter="url(#pb2)"><rect x="390" y="12" width="368" height="362" fill="#8b7b73" /><ellipse cx="450" cy="80" rx="80" ry="70" fill="#76665f" /><ellipse cx="700" cy="300" rx="70" ry="70" fill="#9b8b84" /><ellipse cx="690" cy="60" rx="60" ry="40" fill="#93837b" /><ellipse cx="500" cy="340" rx="90" ry="30" fill="#7d6d66" /><polygon points="470,232 500,130 570,82 650,76 702,130 700,212 640,282 540,322 480,300" fill="#e9e9eb" /><path d="M476,210 C500,120 600,80 690,112" fill="none" stroke="#34363c" stroke-width="16"/><path d="M520,290 C580,290 660,240 698,170" fill="none" stroke="#3e4046" stroke-width="14"/><polygon points="600,140 676,136 684,172 610,182" fill="#484a52" /><polygon points="560,214 660,204 650,244 566,252" fill="#585a62" /><path d="M470,270 C520,300 600,300 650,276 L640,300 C580,326 510,322 474,296 Z" fill="#2e3036" /><ellipse cx="450" cy="286" rx="28" ry="26" fill="#26282c" /><ellipse cx="448" cy="284" rx="12" ry="11" fill="#686a70" /><polygon points="640,70 690,84 700,120 660,110" fill="#50525a" /></g></g><rect x="340.1" y="416.5" width="47.90" height="47.60" filter="url(#gn)" opacity="0.32" style="mix-blend-mode:overlay"/><g transform="translate(272.315 0.800) scale(0.9796 1.0000) translate(15 413) scale(0.13656)"></g></g>
<g clip-path="url(#pc17)"><g transform="translate(337.602 -4.242) scale(1.0264 1.0165) translate(17 183) scale(0.15669)"><g filter="url(#pb)"><rect x="0" y="0" width="490" height="490" fill="#3b3b3d" /><polygon points="12,8 130,8 150,60 120,150 60,230 12,230" fill="#333336" /><ellipse cx="70" cy="70" rx="50" ry="40" fill="#4a4a4c" /><polygon points="130,90 200,70 250,180 240,260 150,250 120,160" fill="#504e4c" /><path d="M185,8 L480,8 L480,200 C400,190 300,150 200,125 C180,90 182,40 185,8 Z" fill="#625e5a" /><path d="M200,30 L470,20 L470,120 C380,110 280,90 210,80 Z" fill="#6c6864" /><path d="M195,120 C300,140 400,185 480,205 L480,225 C400,215 300,175 200,150 Z" fill="#2a2a2c" /><rect x="350" y="205" width="130" height="130" fill="#1d1d20" /><polygon points="380,270 480,262 480,340 400,332" fill="#3b3b3c" /><path d="M12,230 C50,205 110,205 132,250 L128,330 L12,350 Z" fill="#6b635b" /><path d="M12,340 C120,320 330,330 480,360 L480,480 L12,480 Z" fill="#8b8379" /><ellipse cx="200" cy="410" rx="120" ry="44" fill="#a69e96" /><ellipse cx="160" cy="400" rx="60" ry="22" fill="#b9b1a9" /><ellipse cx="400" cy="440" rx="70" ry="25" fill="#7b736b" /><ellipse cx="70" cy="440" rx="50" ry="25" fill="#79716a" /><polygon points="320,310 420,300 440,360 340,364" fill="#6b6359" /><polygon points="120,310 180,300 190,340 110,346" fill="#7a7268" /><path d="M142,300 C128,230 190,186 262,186 C330,186 360,232 358,290 L356,306 C290,326 200,326 142,300 Z" fill="#dfe6f5" /><path d="M150,262 C200,276 290,278 356,256 L357,282 C290,304 200,300 146,286 Z" fill="#30343d" /><path d="M222,236 C240,214 290,208 322,228 C300,240 250,250 222,246 Z" fill="#5f6670" /><path d="M250,232 C270,224 296,224 310,232 C292,238 268,240 250,238 Z" fill="#c9d0dc" /><rect x="120" y="234" width="42" height="36" fill="#242830" /><rect x="126" y="240" width="14" height="12" fill="#8a94a4" /><path d="M146,302 C200,328 290,328 356,308 L352,330 C290,346 200,344 150,322 Z" fill="#15181c" /><path d="M340,220 L360,228 L364,262 L350,262 Z" fill="#d86a7a" /></g></g><rect x="357.0" y="183.1" width="74.00" height="73.90" filter="url(#gn)" opacity="0.32" style="mix-blend-mode:overlay"/><g transform="translate(337.602 -4.242) scale(1.0264 1.0165) translate(17 183) scale(0.15669)"></g></g>
<g clip-path="url(#pc18)"><g transform="translate(338.835 -4.242) scale(1.0069 1.0165) translate(94 183) scale(0.15669)"><g filter="url(#pb)"><rect x="0" y="0" width="490" height="490" fill="#151515" /><polygon points="25,120 110,30 330,15 372,60 300,150 150,182 60,162" fill="#5b534b" /><polygon points="110,40 300,25 330,60 200,90" fill="#6b635a" /><polygon points="330,60 480,40 480,300 400,320 340,200 300,150" fill="#2a2622" /><path d="M12,150 L60,162 L140,230 L130,380 L200,470 L12,480 Z" fill="#5d554d" /><path d="M12,400 C150,380 330,420 480,380 L480,480 L12,480 Z" fill="#5a5149" /><ellipse cx="420" cy="400" rx="60" ry="50" fill="#4a443e" /><ellipse cx="80" cy="300" rx="50" ry="70" fill="#686058" /><ellipse cx="250" cy="455" rx="90" ry="22" fill="#6f675f" /><path d="M160,385 C220,440 300,440 340,395 L330,430 C280,455 200,450 165,415 Z" fill="#141414" /><path d="M120,300 C105,200 170,132 250,136 C325,140 368,215 362,300 C358,350 330,384 280,394 C215,402 140,370 120,300 Z" fill="#e7e5ea" /><path d="M122,292 C118,230 150,170 196,142 C170,200 168,280 200,352 C160,340 130,320 122,292 Z" fill="#c4c2cc" /><path d="M196,142 C240,190 290,250 312,310 L338,296 C316,232 270,178 226,138 Z" fill="#3b3d4b" /><path d="M122,292 C170,330 250,344 318,318 L322,342 C250,370 160,350 124,316 Z" fill="#4c4e5c" /><rect x="140" y="245" width="52" height="26" fill="#6c6e78" /><rect x="150" y="205" width="40" height="16" fill="#a9abb3" /><path d="M150,340 C200,372 280,380 330,350 L330,372 C280,398 200,392 152,362 Z" fill="#d9d7dd" /><ellipse cx="326" cy="316" rx="44" ry="28" fill="#79bfee" opacity="0.8"/><polygon points="330,304 430,268 348,328" fill="#8fd0f4" opacity="0.55"/><polygon points="300,318 250,330 300,326" fill="#8fd0f4" opacity="0.4"/><ellipse cx="322" cy="316" rx="18" ry="15" fill="#ffffff" /></g></g><rect x="435.4" y="183.1" width="72.60" height="73.90" filter="url(#gn)" opacity="0.32" style="mix-blend-mode:overlay"/><g transform="translate(338.835 -4.242) scale(1.0069 1.0165) translate(94 183) scale(0.15669)"></g></g>
<rect x="373.4" y="208.6" width="43.2" height="25.3" fill="none" stroke="#4fe24a" stroke-width="2.0"/>
<rect x="450.2" y="202.1" width="43.6" height="42.6" fill="none" stroke="#4fe24a" stroke-width="2.6"/>
<text x="393.8" y="202.9" font-size="10.7" font-weight="bold" fill="#4fe24a" text-anchor="middle" font-family="'Liberation Serif', serif">Helmet 100%</text>
<text x="472.8" y="197.0" font-size="10.7" font-weight="bold" fill="#4fe24a" text-anchor="middle" font-family="'Liberation Serif', serif">Helmet 98%</text><defs><filter id="rb" x="-5%" y="-5%" width="110%" height="110%"><feGaussianBlur stdDeviation="2.6"/></filter></defs><g transform="translate(210 168) scale(0.16502)" filter="url(#rb)"><ellipse cx="500" cy="310" rx="68" ry="120" fill="#131313" /><ellipse cx="508" cy="312" rx="40" ry="86" fill="#1d1d1f" /><polygon points="75,205 102,124 160,116 350,128 352,186 548,175 550,190 512,196 512,332 420,372 330,366 200,330 90,300" fill="#222327" /><polygon points="160,44 310,40 316,132 158,136" fill="#8d9196" /><polygon points="165,100 312,96 316,132 158,136" fill="#3b3d42" /><rect x="228" y="28" width="46" height="16" fill="#5c6c98" /><ellipse cx="207" cy="78" rx="30" ry="26" fill="#e8ecf0" /><ellipse cx="268" cy="75" rx="32" ry="28" fill="#e8ecf0" /><ellipse cx="207" cy="78" rx="19" ry="17" fill="#ffffff" /><ellipse cx="268" cy="75" rx="21" ry="19" fill="#ffffff" /><polygon points="120,150 340,150 340,170 116,172" fill="#4b4d52" /><rect x="186" y="178" width="120" height="7" fill="#9a9ca0" /><rect x="314" y="120" width="16" height="14" fill="#b8302a" /><polygon points="332,186 548,174 551,189 336,200" fill="#3c3c40" /><polygon points="336,204 462,202 462,240 338,242" fill="#7787a7" /><polygon points="340,242 500,236 500,312 346,322" fill="#4b4b4e" /><polygon points="346,322 500,312 500,360 420,372 346,362" fill="#343437" /><rect x="420" y="318" width="26" height="40" fill="#5a5a5c" /><rect x="452" y="316" width="24" height="40" fill="#555557" /><rect x="478" y="308" width="18" height="24" fill="#d0602a" /><polygon points="488,200 512,198 512,240 492,240" fill="#2a2a2d" /><ellipse cx="105" cy="315" rx="69" ry="116" fill="#131313" /><ellipse cx="98" cy="318" rx="38" ry="74" fill="#222226" /><ellipse cx="98" cy="318" rx="14" ry="24" fill="#0c0c0c" /><ellipse cx="265" cy="330" rx="80" ry="126" fill="#131313" /><ellipse cx="256" cy="335" rx="42" ry="80" fill="#232327" /><ellipse cx="256" cy="335" rx="15" ry="26" fill="#0c0c0c" /><line x1="98" y1="318" x2="98.0" y2="248.0" stroke="#0e0e0e" stroke-width="11" /><line x1="98" y1="318" x2="132.2" y2="296.4" stroke="#0e0e0e" stroke-width="11" /><line x1="98" y1="318" x2="119.2" y2="374.6" stroke="#0e0e0e" stroke-width="11" /><line x1="98" y1="318" x2="76.8" y2="374.6" stroke="#0e0e0e" stroke-width="11" /><line x1="98" y1="318" x2="63.8" y2="296.4" stroke="#0e0e0e" stroke-width="11" /><line x1="256" y1="335" x2="256.0" y2="259.0" stroke="#0e0e0e" stroke-width="11" /><line x1="256" y1="335" x2="294.0" y2="311.5" stroke="#0e0e0e" stroke-width="11" /><line x1="256" y1="335" x2="279.5" y2="396.5" stroke="#0e0e0e" stroke-width="11" /><line x1="256" y1="335" x2="232.5" y2="396.5" stroke="#0e0e0e" stroke-width="11" /><line x1="256" y1="335" x2="218.0" y2="311.5" stroke="#0e0e0e" stroke-width="11" /></g>
<line x1="706.53" y1="29.0" x2="706.53" y2="436.3" stroke="#b4b4b4" stroke-width="1"/>
<line x1="807.56" y1="29.0" x2="807.56" y2="436.3" stroke="#b4b4b4" stroke-width="1"/>
<line x1="908.59" y1="29.0" x2="908.59" y2="436.3" stroke="#b4b4b4" stroke-width="1"/>
<line x1="1009.62" y1="29.0" x2="1009.62" y2="436.3" stroke="#b4b4b4" stroke-width="1"/>
<line x1="1110.65" y1="29.0" x2="1110.65" y2="436.3" stroke="#b4b4b4" stroke-width="1"/>
<line x1="605.9" y1="385.70" x2="1151.9" y2="385.70" stroke="#b4b4b4" stroke-width="1"/>
<line x1="605.9" y1="334.30" x2="1151.9" y2="334.30" stroke="#b4b4b4" stroke-width="1"/>
<line x1="605.9" y1="282.90" x2="1151.9" y2="282.90" stroke="#b4b4b4" stroke-width="1"/>
<line x1="605.9" y1="231.50" x2="1151.9" y2="231.50" stroke="#b4b4b4" stroke-width="1"/>
<line x1="605.9" y1="180.10" x2="1151.9" y2="180.10" stroke="#b4b4b4" stroke-width="1"/>
<line x1="605.9" y1="128.70" x2="1151.9" y2="128.70" stroke="#b4b4b4" stroke-width="1"/>
<line x1="605.9" y1="77.30" x2="1151.9" y2="77.30" stroke="#b4b4b4" stroke-width="1"/>
<ellipse cx="918.2" cy="152.2" rx="116.6" ry="56.4" fill="none" stroke="#c0704e" stroke-width="3.2" stroke-dasharray="11.3 4.9" stroke-dashoffset="4" transform="rotate(-3 918.2 152.2)"/>
<ellipse cx="1020.1" cy="361.4" rx="125" ry="53.5" fill="none" stroke="#36871c" stroke-width="3.2" stroke-dasharray="11.3 4.9" transform="rotate(7.9 1020.1 361.4)"/>
<polygon points="678.6,264.1 693.3,278.8 678.6,293.5 663.9,278.8" fill="#c0704e"/>
<circle cx="699.8" cy="384.0" r="11.7" fill="#36871c"/>
<polygon points="890.90,115.30 894.78,126.46 906.59,126.70 897.18,133.84 900.60,145.15 890.90,138.40 881.20,145.15 884.62,133.84 875.21,126.70 887.02,126.46" fill="#e8300c"/>
<polygon points="903.60,119.80 907.48,130.96 919.29,131.20 909.88,138.34 913.30,149.65 903.60,142.90 893.90,149.65 897.32,138.34 887.91,131.20 899.72,130.96" fill="#f09294"/>
<polygon points="911.00,135.30 914.88,146.46 926.69,146.70 917.28,153.84 920.70,165.15 911.00,158.40 901.30,165.15 904.72,153.84 895.31,146.70 907.12,146.46" fill="#f4a962"/>
<polygon points="946.00,132.80 949.88,143.96 961.69,144.20 952.28,151.34 955.70,162.65 946.00,155.90 936.30,162.65 939.72,151.34 930.31,144.20 942.12,143.96" fill="#a8f8de"/>
<polygon points="932.50,144.50 936.38,155.66 948.19,155.90 938.78,163.04 942.20,174.35 932.50,167.60 922.80,174.35 926.22,163.04 916.81,155.90 928.62,155.66" fill="#7591d0"/>
<polygon points="954.30,167.50 958.18,178.66 969.99,178.90 960.58,186.04 964.00,197.35 954.30,190.60 944.60,197.35 948.02,186.04 938.61,178.90 950.42,178.66" fill="#448a96"/>
<polygon points="966.70,334.50 979.40,359.50 954.00,359.50" fill="#e8300c"/>
<polygon points="993.90,339.00 1006.60,364.00 981.20,364.00" fill="#f09294"/>
<polygon points="1015.70,350.50 1028.40,375.50 1003.00,375.50" fill="#f4a962"/>
<polygon points="1042.40,343.40 1055.10,368.40 1029.70,368.40" fill="#a8f8de"/>
<polygon points="1036.10,357.60 1048.80,382.60 1023.40,382.60" fill="#7591d0"/>
<polygon points="1080.20,366.50 1092.90,391.50 1067.50,391.50" fill="#448a96"/>
<line x1="678.6" y1="278.8" x2="890.7" y2="130.6" stroke="#808080" stroke-width="2.4"/>
<line x1="682.49" y1="284.37" x2="674.71" y2="273.23" stroke="#808080" stroke-width="2.2"/>
<line x1="894.59" y1="136.17" x2="886.81" y2="125.03" stroke="#808080" stroke-width="2.2"/>
<line x1="678.6" y1="278.8" x2="954.3" y2="183.4" stroke="#808080" stroke-width="2.4"/>
<line x1="680.82" y1="285.23" x2="676.38" y2="272.37" stroke="#808080" stroke-width="2.2"/>
<line x1="956.52" y1="189.83" x2="952.08" y2="176.97" stroke="#808080" stroke-width="2.2"/>
<line x1="699.8" y1="384.0" x2="966.6" y2="346.5" stroke="#808080" stroke-width="2.4"/>
<line x1="700.75" y1="390.73" x2="698.85" y2="377.27" stroke="#808080" stroke-width="2.2"/>
<line x1="967.55" y1="353.23" x2="965.65" y2="339.77" stroke="#808080" stroke-width="2.2"/>
<line x1="699.8" y1="384.0" x2="1080.2" y2="378.6" stroke="#808080" stroke-width="2.4"/>
<line x1="699.90" y1="390.80" x2="699.70" y2="377.20" stroke="#808080" stroke-width="2.2"/>
<line x1="1080.30" y1="385.40" x2="1080.10" y2="371.80" stroke="#808080" stroke-width="2.2"/>
<text transform="translate(707.2 250.0) rotate(-34.0)" font-size="19.6" fill="#000" text-anchor="start" font-family="'Liberation Serif', serif">+21.803%/ x1.770</text>
<text transform="translate(769.6 271.4) rotate(-19.8)" font-size="19.9" fill="#000" text-anchor="start" font-family="'Liberation Serif', serif">+14.075%/ x1.999</text>
<text transform="translate(745.2 375.9) rotate(-7.6)" font-size="19.6" fill="#000" text-anchor="start" font-family="'Liberation Serif', serif">+6.522%/ x1.900</text>
<text transform="translate(801.2 400.0) rotate(-0.8)" font-size="19.6" fill="#000" text-anchor="start" font-family="'Liberation Serif', serif">+0.906%/ x2.282</text>
<text transform="translate(907.0 118.2) rotate(20.0)" font-size="19.6" fill="#000" text-anchor="start" font-family="'Liberation Serif', serif">AirShot(Ours)</text>
<text transform="translate(972.3 324.0) rotate(16.1)" font-size="19.6" fill="#000" text-anchor="start" font-family="'Liberation Serif', serif">A-RPN+TPF(Ours)</text>
<text x="678.6" y="303.4" font-size="19.1" fill="#000" text-anchor="middle" font-family="'Liberation Serif', serif" >AirDet</text>
<text x="699.6" y="409.3" font-size="19.5" fill="#000" text-anchor="middle" font-family="'Liberation Serif', serif" >A-RPN</text>
<rect x="605.9" y="29.0" width="546.00" height="407.30" fill="none" stroke="#000" stroke-width="1.2"/>
<line x1="605.50" y1="436.3" x2="605.50" y2="440.5" stroke="#000" stroke-width="1.1"/>
<text x="604.30" y="453.7" font-size="12" fill="#000" text-anchor="middle" font-family="'Liberation Serif', serif" letter-spacing="-0.4">1.0</text>
<line x1="706.53" y1="436.3" x2="706.53" y2="440.5" stroke="#000" stroke-width="1.1"/>
<text x="705.33" y="453.7" font-size="12" fill="#000" text-anchor="middle" font-family="'Liberation Serif', serif" letter-spacing="-0.4">1.5</text>
<line x1="807.56" y1="436.3" x2="807.56" y2="440.5" stroke="#000" stroke-width="1.1"/>
<text x="806.36" y="453.7" font-size="12" fill="#000" text-anchor="middle" font-family="'Liberation Serif', serif" letter-spacing="-0.4">2.0</text>
<line x1="908.59" y1="436.3" x2="908.59" y2="440.5" stroke="#000" stroke-width="1.1"/>
<text x="907.39" y="453.7" font-size="12" fill="#000" text-anchor="middle" font-family="'Liberation Serif', serif" letter-spacing="-0.4">2.5</text>
<line x1="1009.62" y1="436.3" x2="1009.62" y2="440.5" stroke="#000" stroke-width="1.1"/>
<text x="1008.42" y="453.7" font-size="12" fill="#000" text-anchor="middle" font-family="'Liberation Serif', serif" letter-spacing="-0.4">3.0</text>
<line x1="1110.65" y1="436.3" x2="1110.65" y2="440.5" stroke="#000" stroke-width="1.1"/>
<text x="1109.45" y="453.7" font-size="12" fill="#000" text-anchor="middle" font-family="'Liberation Serif', serif" letter-spacing="-0.4">3.5</text>
<line x1="601.6999999999999" y1="385.70" x2="605.9" y2="385.70" stroke="#000" stroke-width="1.1"/>
<text x="595.4" y="389.80" font-size="12" fill="#000" text-anchor="end" font-family="'Liberation Serif', serif" letter-spacing="-0.4">5.5</text>
<line x1="601.6999999999999" y1="334.30" x2="605.9" y2="334.30" stroke="#000" stroke-width="1.1"/>
<text x="595.4" y="338.40" font-size="12" fill="#000" text-anchor="end" font-family="'Liberation Serif', serif" letter-spacing="-0.4">6.0</text>
<line x1="601.6999999999999" y1="282.90" x2="605.9" y2="282.90" stroke="#000" stroke-width="1.1"/>
<text x="595.4" y="287.00" font-size="12" fill="#000" text-anchor="end" font-family="'Liberation Serif', serif" letter-spacing="-0.4">6.5</text>
<line x1="601.6999999999999" y1="231.50" x2="605.9" y2="231.50" stroke="#000" stroke-width="1.1"/>
<text x="595.4" y="235.60" font-size="12" fill="#000" text-anchor="end" font-family="'Liberation Serif', serif" letter-spacing="-0.4">7.0</text>
<line x1="601.6999999999999" y1="180.10" x2="605.9" y2="180.10" stroke="#000" stroke-width="1.1"/>
<text x="595.4" y="184.20" font-size="12" fill="#000" text-anchor="end" font-family="'Liberation Serif', serif" letter-spacing="-0.4">7.5</text>
<line x1="601.6999999999999" y1="128.70" x2="605.9" y2="128.70" stroke="#000" stroke-width="1.1"/>
<text x="595.4" y="132.80" font-size="12" fill="#000" text-anchor="end" font-family="'Liberation Serif', serif" letter-spacing="-0.4">8.0</text>
<line x1="601.6999999999999" y1="77.30" x2="605.9" y2="77.30" stroke="#000" stroke-width="1.1"/>
<text x="595.4" y="81.40" font-size="12" fill="#000" text-anchor="end" font-family="'Liberation Serif', serif" letter-spacing="-0.4">8.5</text>
<rect x="614.2" y="37.4" width="128.4" height="166.2" rx="3.5" fill="#fff" fill-opacity="0.8" stroke="#d0d0d0" stroke-width="1"/>
<rect x="632.2" y="46.30" width="15.3" height="15.2" fill="#e8300c"/>
<text x="672.9" y="59.30" font-size="18" fill="#000" text-anchor="start" font-family="'Liberation Serif', serif" >n=10</text>
<rect x="632.2" y="72.80" width="15.3" height="15.2" fill="#f09294"/>
<text x="672.9" y="85.80" font-size="18" fill="#000" text-anchor="start" font-family="'Liberation Serif', serif" >n=8</text>
<rect x="632.2" y="99.40" width="15.3" height="15.2" fill="#f4a962"/>
<text x="672.9" y="112.40" font-size="18" fill="#000" text-anchor="start" font-family="'Liberation Serif', serif" >n=7</text>
<rect x="632.2" y="126.00" width="15.3" height="15.2" fill="#7591d0"/>
<text x="672.9" y="139.00" font-size="18" fill="#000" text-anchor="start" font-family="'Liberation Serif', serif" >n=6</text>
<rect x="632.2" y="153.30" width="15.3" height="15.2" fill="#448a96"/>
<text x="672.9" y="166.30" font-size="18" fill="#000" text-anchor="start" font-family="'Liberation Serif', serif" >n=5</text>
<rect x="632.2" y="180.00" width="15.3" height="15.2" fill="#a8f8de"/>
<text x="672.9" y="193.00" font-size="18" fill="#000" text-anchor="start" font-family="'Liberation Serif', serif" textLength="61.8" lengthAdjust="spacingAndGlyphs">adaptive</text>
<text x="877.6" y="21.3" font-size="22" fill="#000" text-anchor="middle" font-family="'Liberation Serif', serif" >Precision-Efficiency Inter-Model Comparison (3 shots)</text>
<text x="878.0" y="477.8" font-size="22" fill="#000" text-anchor="middle" font-family="'Liberation Serif', serif" >Efficiency (1/T)</text>
<text transform="translate(570.6 232.6) rotate(-90)" font-size="22" fill="#000" text-anchor="middle" font-family="'Liberation Serif', serif">Average Precision (AP)</text>
</svg></body></html>
